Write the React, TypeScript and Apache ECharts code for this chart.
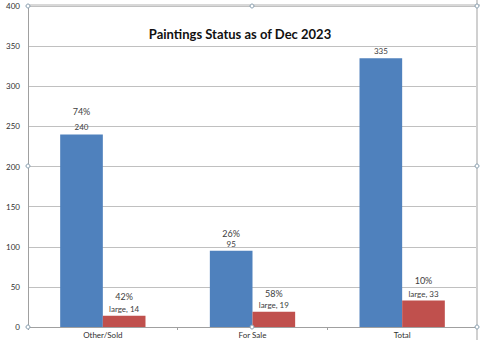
import React, { useEffect, useRef } from "react";
import * as echarts from "echarts";

const categories = ["Other/Sold", "For Sale", "Total"];
const totalValues = [240, 95, 335];
const totalPct = ["74%", "26%", ""];
const largeValues = [14, 19, 33];
const largePct = ["42%", "58%", "10%"];
const yTicks = { min: 0, max: 400, interval: 50 };

// label spacing (style only)
const blueGap = [16, 10, 0];
const redGap = [12, 11, 13];

const FONT = "Lato, 'Open Sans', sans-serif";

export default function App() {
  const ref = useRef<HTMLDivElement>(null);
  useEffect(() => {
    if (!ref.current) return;
    const chart = echarts.init(ref.current, undefined, { renderer: "svg" });
    const mkData = (vals: number[], pcts: string[], gaps: number[], prefix: string) =>
      vals.map((v, i) => {
        const txt = prefix + v;
        const fmt = pcts[i] ? `{p|${pcts[i]}}\n{v|${txt}}` : `{v|${txt}}`;
        return {
          value: v,
          label: {
            formatter: fmt,
            rich: {
              p: { fontSize: 9, color: "#404040", fontFamily: FONT, lineHeight: Math.max(2, 2 * gaps[i] - 10) },
              v: { fontSize: 8, color: "#404040", fontFamily: FONT, lineHeight: 10 },
            },
          },
        };
      });
    const handles = [
      [28, 6], [28, 166], [28, 327], [252, 6], [252, 327], [477, 6], [477, 166], [477, 327],
    ];
    chart.setOption({
      animation: false,
      backgroundColor: "#ffffff",
      title: {
        text: "Paintings Status as of Dec 2023",
        left: "center",
        top: 22,
        textStyle: { fontSize: 13, fontWeight: "bold", color: "#111", fontFamily: FONT },
      },
      grid: { left: 28, right: 3, top: 6, bottom: 13, containLabel: false },
      xAxis: {
        type: "category",
        data: categories,
        axisLine: { lineStyle: { color: "#a0a0a0" } },
        axisTick: { show: true, length: 3, lineStyle: { color: "#a0a0a0" } },
        axisLabel: { fontSize: 8, color: "#303030", fontFamily: FONT, margin: 4 },
      },
      yAxis: {
        type: "value",
        min: yTicks.min,
        max: yTicks.max,
        interval: yTicks.interval,
        axisLine: { show: true, lineStyle: { color: "#a0a0a0" } },
        axisTick: { show: false },
        axisLabel: { fontSize: 8, color: "#303030", fontFamily: FONT, margin: 8 },
        splitLine: { lineStyle: { color: "#c0c0c0" } },
      },
      series: [
        {
          type: "bar",
          data: mkData(totalValues, totalPct, blueGap, ""),
          itemStyle: { color: "#4F81BD" },
          barGap: "0%",
          barCategoryGap: "43%",
          label: { show: true, position: "top", distance: 2 },
        },
        {
          type: "bar",
          data: mkData(largeValues, largePct, redGap, "large, "),
          itemStyle: { color: "#C0504D" },
          label: { show: true, position: "top", distance: 2 },
        },
      ],
      graphic: [
        { type: "line", shape: { x1: 28, y1: 5, x2: 480, y2: 5 }, style: { stroke: "#d8d8d8", lineWidth: 2 }, z: 10 },
        { type: "line", shape: { x1: 477, y1: 0, x2: 477, y2: 340 }, style: { stroke: "#d0d0d0", lineWidth: 2 }, z: 10 },
        ...handles.map(([x, y]) => ({
          type: "circle",
          shape: { cx: x, cy: y, r: 2 },
          style: { fill: "#ffffff", stroke: "#8aa0b0", lineWidth: 1 },
          z: 11,
        })),
      ],
    });
    return () => chart.dispose();
  }, []);
  return (
    <div
      ref={ref}
      style={{ position: "fixed", left: 0, top: 0, width: 480, height: 340 }}
    />
  );
}
